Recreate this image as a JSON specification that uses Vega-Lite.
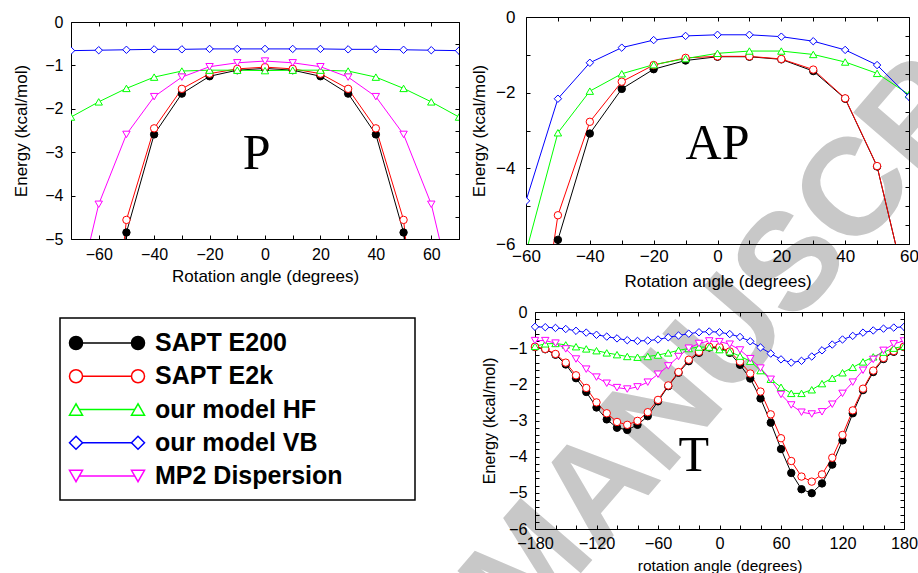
{
"$schema": "https://vega.github.io/schema/vega-lite/v6.json",
"background": "white",
"autosize": {"type": "pad"},
"padding": {"left": 12, "top": 7, "right": 0, "bottom": 0},
"config": {
  "view": {"stroke": "#000000", "strokeWidth": 1},
  "axis": {"grid": false, "domain": false, "domainColor": "#000000", "domainWidth": 1, "labelFont": "Liberation Sans", "titleFont": "Liberation Sans", "labelColor": "#000000", "titleColor": "#000000", "tickColor": "#000000", "titleFontWeight": "normal", "labelFlush": false, "labelOverlap": false, "tickSize": -4, "tickWidth": 1}
},
"datasets": {
"P": [
{"series":"SAPT E200","angle":-60,"energy":-11.0},{"series":"SAPT E200","angle":-50,"energy":-4.85},{"series":"SAPT E200","angle":-40,"energy":-2.59},{"series":"SAPT E200","angle":-30,"energy":-1.65},{"series":"SAPT E200","angle":-20,"energy":-1.25},{"series":"SAPT E200","angle":-10,"energy":-1.11},{"series":"SAPT E200","angle":0,"energy":-1.07},{"series":"SAPT E200","angle":10,"energy":-1.11},{"series":"SAPT E200","angle":20,"energy":-1.25},{"series":"SAPT E200","angle":30,"energy":-1.65},{"series":"SAPT E200","angle":40,"energy":-2.59},{"series":"SAPT E200","angle":50,"energy":-4.85},{"series":"SAPT E200","angle":60,"energy":-11.0},
{"series":"SAPT E2k","angle":-60,"energy":-10.5},{"series":"SAPT E2k","angle":-50,"energy":-4.56},{"series":"SAPT E2k","angle":-40,"energy":-2.45},{"series":"SAPT E2k","angle":-30,"energy":-1.54},{"series":"SAPT E2k","angle":-20,"energy":-1.19},{"series":"SAPT E2k","angle":-10,"energy":-1.08},{"series":"SAPT E2k","angle":0,"energy":-1.04},{"series":"SAPT E2k","angle":10,"energy":-1.08},{"series":"SAPT E2k","angle":20,"energy":-1.19},{"series":"SAPT E2k","angle":30,"energy":-1.54},{"series":"SAPT E2k","angle":40,"energy":-2.45},{"series":"SAPT E2k","angle":50,"energy":-4.56},{"series":"SAPT E2k","angle":60,"energy":-10.5},
{"series":"our model HF","angle":-70,"energy":-2.19},{"series":"our model HF","angle":-60,"energy":-1.84},{"series":"our model HF","angle":-50,"energy":-1.53},{"series":"our model HF","angle":-40,"energy":-1.27},{"series":"our model HF","angle":-30,"energy":-1.13},{"series":"our model HF","angle":-20,"energy":-1.11},{"series":"our model HF","angle":-10,"energy":-1.11},{"series":"our model HF","angle":0,"energy":-1.12},{"series":"our model HF","angle":10,"energy":-1.11},{"series":"our model HF","angle":20,"energy":-1.11},{"series":"our model HF","angle":30,"energy":-1.13},{"series":"our model HF","angle":40,"energy":-1.27},{"series":"our model HF","angle":50,"energy":-1.53},{"series":"our model HF","angle":60,"energy":-1.84},{"series":"our model HF","angle":70,"energy":-2.19},
{"series":"our model VB","angle":-70,"energy":-0.66},{"series":"our model VB","angle":-60,"energy":-0.65},{"series":"our model VB","angle":-50,"energy":-0.64},{"series":"our model VB","angle":-40,"energy":-0.63},{"series":"our model VB","angle":-30,"energy":-0.63},{"series":"our model VB","angle":-20,"energy":-0.62},{"series":"our model VB","angle":-10,"energy":-0.62},{"series":"our model VB","angle":0,"energy":-0.62},{"series":"our model VB","angle":10,"energy":-0.62},{"series":"our model VB","angle":20,"energy":-0.62},{"series":"our model VB","angle":30,"energy":-0.63},{"series":"our model VB","angle":40,"energy":-0.63},{"series":"our model VB","angle":50,"energy":-0.64},{"series":"our model VB","angle":60,"energy":-0.65},{"series":"our model VB","angle":70,"energy":-0.66},
{"series":"MP2 Dispersion","angle":-70,"energy":-6.9},{"series":"MP2 Dispersion","angle":-60,"energy":-4.2},{"series":"MP2 Dispersion","angle":-50,"energy":-2.59},{"series":"MP2 Dispersion","angle":-40,"energy":-1.72},{"series":"MP2 Dispersion","angle":-30,"energy":-1.27},{"series":"MP2 Dispersion","angle":-20,"energy":-1.03},{"series":"MP2 Dispersion","angle":-10,"energy":-0.94},{"series":"MP2 Dispersion","angle":0,"energy":-0.9},{"series":"MP2 Dispersion","angle":10,"energy":-0.94},{"series":"MP2 Dispersion","angle":20,"energy":-1.03},{"series":"MP2 Dispersion","angle":30,"energy":-1.27},{"series":"MP2 Dispersion","angle":40,"energy":-1.72},{"series":"MP2 Dispersion","angle":50,"energy":-2.59},{"series":"MP2 Dispersion","angle":60,"energy":-4.2},{"series":"MP2 Dispersion","angle":70,"energy":-6.9}
],
"AP": [
{"series":"SAPT E200","angle":-60,"energy":-12.0},{"series":"SAPT E200","angle":-50,"energy":-5.89},{"series":"SAPT E200","angle":-40,"energy":-3.08},{"series":"SAPT E200","angle":-30,"energy":-1.9},{"series":"SAPT E200","angle":-20,"energy":-1.38},{"series":"SAPT E200","angle":-10,"energy":-1.15},{"series":"SAPT E200","angle":0,"energy":-1.05},{"series":"SAPT E200","angle":10,"energy":-1.05},{"series":"SAPT E200","angle":20,"energy":-1.12},{"series":"SAPT E200","angle":30,"energy":-1.43},{"series":"SAPT E200","angle":40,"energy":-2.16},{"series":"SAPT E200","angle":50,"energy":-3.95},{"series":"SAPT E200","angle":60,"energy":-7.5},
{"series":"SAPT E2k","angle":-60,"energy":-10.9},{"series":"SAPT E2k","angle":-50,"energy":-5.24},{"series":"SAPT E2k","angle":-40,"energy":-2.77},{"series":"SAPT E2k","angle":-30,"energy":-1.71},{"series":"SAPT E2k","angle":-20,"energy":-1.27},{"series":"SAPT E2k","angle":-10,"energy":-1.08},{"series":"SAPT E2k","angle":0,"energy":-1.04},{"series":"SAPT E2k","angle":10,"energy":-1.04},{"series":"SAPT E2k","angle":20,"energy":-1.11},{"series":"SAPT E2k","angle":30,"energy":-1.39},{"series":"SAPT E2k","angle":40,"energy":-2.15},{"series":"SAPT E2k","angle":50,"energy":-3.94},{"series":"SAPT E2k","angle":60,"energy":-7.5},
{"series":"our model HF","angle":-60,"energy":-6.22},{"series":"our model HF","angle":-50,"energy":-3.06},{"series":"our model HF","angle":-40,"energy":-1.96},{"series":"our model HF","angle":-30,"energy":-1.5},{"series":"our model HF","angle":-20,"energy":-1.26},{"series":"our model HF","angle":-10,"energy":-1.1},{"series":"our model HF","angle":0,"energy":-0.96},{"series":"our model HF","angle":10,"energy":-0.9},{"series":"our model HF","angle":20,"energy":-0.9},{"series":"our model HF","angle":30,"energy":-0.99},{"series":"our model HF","angle":40,"energy":-1.19},{"series":"our model HF","angle":50,"energy":-1.49},{"series":"our model HF","angle":60,"energy":-2.05},
{"series":"our model VB","angle":-60,"energy":-4.86},{"series":"our model VB","angle":-50,"energy":-2.16},{"series":"our model VB","angle":-40,"energy":-1.21},{"series":"our model VB","angle":-30,"energy":-0.81},{"series":"our model VB","angle":-20,"energy":-0.61},{"series":"our model VB","angle":-10,"energy":-0.5},{"series":"our model VB","angle":0,"energy":-0.47},{"series":"our model VB","angle":10,"energy":-0.47},{"series":"our model VB","angle":20,"energy":-0.52},{"series":"our model VB","angle":30,"energy":-0.64},{"series":"our model VB","angle":40,"energy":-0.87},{"series":"our model VB","angle":50,"energy":-1.27},{"series":"our model VB","angle":60,"energy":-2.11}
],
"T": [
{"series":"SAPT E200","angle":-180,"energy":-0.97},{"series":"SAPT E200","angle":-170,"energy":-1.03},{"series":"SAPT E200","angle":-160,"energy":-1.18},{"series":"SAPT E200","angle":-150,"energy":-1.45},{"series":"SAPT E200","angle":-140,"energy":-1.83},{"series":"SAPT E200","angle":-130,"energy":-2.21},{"series":"SAPT E200","angle":-120,"energy":-2.64},{"series":"SAPT E200","angle":-110,"energy":-2.97},{"series":"SAPT E200","angle":-100,"energy":-3.2},{"series":"SAPT E200","angle":-90,"energy":-3.26},{"series":"SAPT E200","angle":-80,"energy":-3.12},{"series":"SAPT E200","angle":-70,"energy":-2.88},{"series":"SAPT E200","angle":-60,"energy":-2.47},{"series":"SAPT E200","angle":-50,"energy":-2.05},{"series":"SAPT E200","angle":-40,"energy":-1.68},{"series":"SAPT E200","angle":-30,"energy":-1.36},{"series":"SAPT E200","angle":-20,"energy":-1.13},{"series":"SAPT E200","angle":-10,"energy":-0.98},{"series":"SAPT E200","angle":0,"energy":-0.98},{"series":"SAPT E200","angle":10,"energy":-1.13},{"series":"SAPT E200","angle":20,"energy":-1.46},{"series":"SAPT E200","angle":30,"energy":-1.84},{"series":"SAPT E200","angle":40,"energy":-2.39},{"series":"SAPT E200","angle":50,"energy":-3.06},{"series":"SAPT E200","angle":60,"energy":-3.79},{"series":"SAPT E200","angle":70,"energy":-4.45},{"series":"SAPT E200","angle":80,"energy":-4.9},{"series":"SAPT E200","angle":90,"energy":-5.01},{"series":"SAPT E200","angle":100,"energy":-4.74},{"series":"SAPT E200","angle":110,"energy":-4.22},{"series":"SAPT E200","angle":120,"energy":-3.55},{"series":"SAPT E200","angle":130,"energy":-2.8},{"series":"SAPT E200","angle":140,"energy":-2.16},{"series":"SAPT E200","angle":150,"energy":-1.66},{"series":"SAPT E200","angle":160,"energy":-1.3},{"series":"SAPT E200","angle":170,"energy":-1.1},{"series":"SAPT E200","angle":180,"energy":-0.97},
{"series":"SAPT E2k","angle":-180,"energy":-0.96},{"series":"SAPT E2k","angle":-170,"energy":-1.02},{"series":"SAPT E2k","angle":-160,"energy":-1.16},{"series":"SAPT E2k","angle":-150,"energy":-1.4},{"series":"SAPT E2k","angle":-140,"energy":-1.75},{"series":"SAPT E2k","angle":-130,"energy":-2.1},{"series":"SAPT E2k","angle":-120,"energy":-2.5},{"series":"SAPT E2k","angle":-110,"energy":-2.8},{"series":"SAPT E2k","angle":-100,"energy":-3.04},{"series":"SAPT E2k","angle":-90,"energy":-3.12},{"series":"SAPT E2k","angle":-80,"energy":-3.01},{"series":"SAPT E2k","angle":-70,"energy":-2.77},{"series":"SAPT E2k","angle":-60,"energy":-2.43},{"series":"SAPT E2k","angle":-50,"energy":-2.03},{"series":"SAPT E2k","angle":-40,"energy":-1.66},{"series":"SAPT E2k","angle":-30,"energy":-1.32},{"series":"SAPT E2k","angle":-20,"energy":-1.1},{"series":"SAPT E2k","angle":-10,"energy":-0.96},{"series":"SAPT E2k","angle":0,"energy":-0.97},{"series":"SAPT E2k","angle":10,"energy":-1.09},{"series":"SAPT E2k","angle":20,"energy":-1.37},{"series":"SAPT E2k","angle":30,"energy":-1.7},{"series":"SAPT E2k","angle":40,"energy":-2.2},{"series":"SAPT E2k","angle":50,"energy":-2.83},{"series":"SAPT E2k","angle":60,"energy":-3.49},{"series":"SAPT E2k","angle":70,"energy":-4.12},{"series":"SAPT E2k","angle":80,"energy":-4.55},{"series":"SAPT E2k","angle":90,"energy":-4.69},{"series":"SAPT E2k","angle":100,"energy":-4.49},{"series":"SAPT E2k","angle":110,"energy":-4.03},{"series":"SAPT E2k","angle":120,"energy":-3.4},{"series":"SAPT E2k","angle":130,"energy":-2.72},{"series":"SAPT E2k","angle":140,"energy":-2.12},{"series":"SAPT E2k","angle":150,"energy":-1.62},{"series":"SAPT E2k","angle":160,"energy":-1.27},{"series":"SAPT E2k","angle":170,"energy":-1.08},{"series":"SAPT E2k","angle":180,"energy":-0.96},
{"series":"our model HF","angle":-180,"energy":-0.95},{"series":"our model HF","angle":-170,"energy":-0.88},{"series":"our model HF","angle":-160,"energy":-0.87},{"series":"our model HF","angle":-150,"energy":-0.91},{"series":"our model HF","angle":-140,"energy":-0.96},{"series":"our model HF","angle":-130,"energy":-1.02},{"series":"our model HF","angle":-120,"energy":-1.07},{"series":"our model HF","angle":-110,"energy":-1.13},{"series":"our model HF","angle":-100,"energy":-1.18},{"series":"our model HF","angle":-90,"energy":-1.23},{"series":"our model HF","angle":-80,"energy":-1.25},{"series":"our model HF","angle":-70,"energy":-1.23},{"series":"our model HF","angle":-60,"energy":-1.19},{"series":"our model HF","angle":-50,"energy":-1.13},{"series":"our model HF","angle":-40,"energy":-1.06},{"series":"our model HF","angle":-30,"energy":-1.01},{"series":"our model HF","angle":-20,"energy":-0.97},{"series":"our model HF","angle":-10,"energy":-0.97},{"series":"our model HF","angle":0,"energy":-1.04},{"series":"our model HF","angle":10,"energy":-1.1},{"series":"our model HF","angle":20,"energy":-1.22},{"series":"our model HF","angle":30,"energy":-1.36},{"series":"our model HF","angle":40,"energy":-1.62},{"series":"our model HF","angle":50,"energy":-1.86},{"series":"our model HF","angle":60,"energy":-2.08},{"series":"our model HF","angle":70,"energy":-2.25},{"series":"our model HF","angle":80,"energy":-2.25},{"series":"our model HF","angle":90,"energy":-2.15},{"series":"our model HF","angle":100,"energy":-1.98},{"series":"our model HF","angle":110,"energy":-1.83},{"series":"our model HF","angle":120,"energy":-1.68},{"series":"our model HF","angle":130,"energy":-1.53},{"series":"our model HF","angle":140,"energy":-1.38},{"series":"our model HF","angle":150,"energy":-1.24},{"series":"our model HF","angle":160,"energy":-1.11},{"series":"our model HF","angle":170,"energy":-1.0},{"series":"our model HF","angle":180,"energy":-0.95},
{"series":"our model VB","angle":-180,"energy":-0.41},{"series":"our model VB","angle":-170,"energy":-0.42},{"series":"our model VB","angle":-160,"energy":-0.44},{"series":"our model VB","angle":-150,"energy":-0.47},{"series":"our model VB","angle":-140,"energy":-0.52},{"series":"our model VB","angle":-130,"energy":-0.57},{"series":"our model VB","angle":-120,"energy":-0.63},{"series":"our model VB","angle":-110,"energy":-0.68},{"series":"our model VB","angle":-100,"energy":-0.73},{"series":"our model VB","angle":-90,"energy":-0.78},{"series":"our model VB","angle":-80,"energy":-0.8},{"series":"our model VB","angle":-70,"energy":-0.79},{"series":"our model VB","angle":-60,"energy":-0.76},{"series":"our model VB","angle":-50,"energy":-0.7},{"series":"our model VB","angle":-40,"energy":-0.65},{"series":"our model VB","angle":-30,"energy":-0.6},{"series":"our model VB","angle":-20,"energy":-0.56},{"series":"our model VB","angle":-10,"energy":-0.54},{"series":"our model VB","angle":0,"energy":-0.56},{"series":"our model VB","angle":10,"energy":-0.61},{"series":"our model VB","angle":20,"energy":-0.69},{"series":"our model VB","angle":30,"energy":-0.81},{"series":"our model VB","angle":40,"energy":-0.98},{"series":"our model VB","angle":50,"energy":-1.15},{"series":"our model VB","angle":60,"energy":-1.31},{"series":"our model VB","angle":70,"energy":-1.4},{"series":"our model VB","angle":80,"energy":-1.35},{"series":"our model VB","angle":90,"energy":-1.23},{"series":"our model VB","angle":100,"energy":-1.06},{"series":"our model VB","angle":110,"energy":-0.9},{"series":"our model VB","angle":120,"energy":-0.76},{"series":"our model VB","angle":130,"energy":-0.66},{"series":"our model VB","angle":140,"energy":-0.57},{"series":"our model VB","angle":150,"energy":-0.51},{"series":"our model VB","angle":160,"energy":-0.46},{"series":"our model VB","angle":170,"energy":-0.43},{"series":"our model VB","angle":180,"energy":-0.41},
{"series":"MP2 Dispersion","angle":-180,"energy":-0.79},{"series":"MP2 Dispersion","angle":-170,"energy":-0.79},{"series":"MP2 Dispersion","angle":-160,"energy":-0.86},{"series":"MP2 Dispersion","angle":-150,"energy":-1.02},{"series":"MP2 Dispersion","angle":-140,"energy":-1.3},{"series":"MP2 Dispersion","angle":-130,"energy":-1.58},{"series":"MP2 Dispersion","angle":-120,"energy":-1.8},{"series":"MP2 Dispersion","angle":-110,"energy":-1.97},{"series":"MP2 Dispersion","angle":-100,"energy":-2.09},{"series":"MP2 Dispersion","angle":-90,"energy":-2.13},{"series":"MP2 Dispersion","angle":-80,"energy":-2.07},{"series":"MP2 Dispersion","angle":-70,"energy":-1.94},{"series":"MP2 Dispersion","angle":-60,"energy":-1.72},{"series":"MP2 Dispersion","angle":-50,"energy":-1.49},{"series":"MP2 Dispersion","angle":-40,"energy":-1.23},{"series":"MP2 Dispersion","angle":-30,"energy":-1.0},{"series":"MP2 Dispersion","angle":-20,"energy":-0.87},{"series":"MP2 Dispersion","angle":-10,"energy":-0.8},{"series":"MP2 Dispersion","angle":0,"energy":-0.82},{"series":"MP2 Dispersion","angle":10,"energy":-0.89},{"series":"MP2 Dispersion","angle":20,"energy":-1.05},{"series":"MP2 Dispersion","angle":30,"energy":-1.29},{"series":"MP2 Dispersion","angle":40,"energy":-1.55},{"series":"MP2 Dispersion","angle":50,"energy":-1.86},{"series":"MP2 Dispersion","angle":60,"energy":-2.28},{"series":"MP2 Dispersion","angle":70,"energy":-2.57},{"series":"MP2 Dispersion","angle":80,"energy":-2.77},{"series":"MP2 Dispersion","angle":90,"energy":-2.82},{"series":"MP2 Dispersion","angle":100,"energy":-2.76},{"series":"MP2 Dispersion","angle":110,"energy":-2.55},{"series":"MP2 Dispersion","angle":120,"energy":-2.25},{"series":"MP2 Dispersion","angle":130,"energy":-1.94},{"series":"MP2 Dispersion","angle":140,"energy":-1.61},{"series":"MP2 Dispersion","angle":150,"energy":-1.31},{"series":"MP2 Dispersion","angle":160,"energy":-1.06},{"series":"MP2 Dispersion","angle":170,"energy":-0.88},{"series":"MP2 Dispersion","angle":180,"energy":-0.8}
],
"legend": [{"series":"SAPT E200"},{"series":"SAPT E2k"},{"series":"our model HF"},{"series":"our model VB"},{"series":"MP2 Dispersion"}]
},
"columns": 2,
"align": "each",
"center": true,
"bounds": "flush",
"spacing": {"row": 68, "column": 67},
"concat": [
{
 "width": 388, "height": 217,
 "layer": [
  {"data": {"values": [{"w": "MANUSCR"}]},
   "mark": {"type": "text", "angle": -49.2, "font": "Liberation Sans", "fontWeight": "bold", "fontSize": 138, "color": "#c8c8c8", "align": "left", "baseline": "middle", "clip": false},
   "encoding": {"text": {"field": "w", "type": "nominal"},
     "x": {"datum": 82, "type": "quantitative", "scale": {"domain": [-70, 70], "nice": false, "zero": false}, "axis": null},
     "y": {"datum": -13.62, "type": "quantitative", "scale": {"domain": [-5, 0], "nice": false, "zero": false}, "axis": null}}},
  {"data": {"name": "P"},
   "mark": {"type": "line", "strokeWidth": 1, "clip": true},
   "encoding": {
     "x": {"field": "angle", "type": "quantitative", "scale": {"domain": [-70, 70], "nice": false, "zero": false},
       "axis": {"orient": "bottom", "values": [-70,-60,-50,-40,-30,-20,-10,0,10,20,30,40,50,60,70], "format": "d", "labelExpr": "datum.value % 20 == 0 ? datum.label : ''", "labelOverlap": false, "title": "Rotation angle (degrees)", "labelFontSize": 16, "titleFontSize": 17, "labelPadding": 11, "titlePadding": 6}},
     "y": {"field": "energy", "type": "quantitative", "scale": {"domain": [-5, 0], "nice": false, "zero": false},
       "axis": {"orient": "left", "values": [-5,-4.5,-4,-3.5,-3,-2.5,-2,-1.5,-1,-0.5,0], "format": "d", "labelExpr": "datum.value % 1 == 0 ? datum.label : ''", "labelOverlap": false, "title": "Energy (kcal/mol)", "labelFontSize": 16, "titleFontSize": 17, "labelPadding": 12, "titlePadding": 14}},
     "color": {"field": "series", "type": "nominal", "scale": {"domain": ["SAPT E200","SAPT E2k","our model HF","our model VB","MP2 Dispersion"], "range": ["#000000","#ff0000","#00ff00","#0000ff","#ff00ff"]}, "legend": null}}},
  {"data": {"name": "P"},
   "mark": {"type": "point", "filled": false, "opacity": 1, "size": 55, "strokeWidth": 1, "clip": true},
   "encoding": {
     "x": {"field": "angle", "type": "quantitative", "scale": {"domain": [-70, 70], "nice": false, "zero": false}, "axis": null},
     "y": {"field": "energy", "type": "quantitative", "scale": {"domain": [-5, 0], "nice": false, "zero": false}, "axis": null},
     "shape": {"field": "series", "type": "nominal", "scale": {"domain": ["SAPT E200","SAPT E2k","our model HF","our model VB","MP2 Dispersion"], "range": ["circle","circle","triangle-up","diamond","triangle-down"]}, "legend": null},
     "stroke": {"field": "series", "type": "nominal", "scale": {"domain": ["SAPT E200","SAPT E2k","our model HF","our model VB","MP2 Dispersion"], "range": ["#000000","#ff0000","#00ff00","#0000ff","#ff00ff"]}, "legend": null},
     "fill": {"field": "series", "type": "nominal", "scale": {"domain": ["SAPT E200","SAPT E2k","our model HF","our model VB","MP2 Dispersion"], "range": ["#000000","#ffffff","#ffffff","#ffffff","#ffffff"]}, "legend": null}}},
  {"data": {"values": [{"t": "P"}]},
   "mark": {"type": "text", "font": "Liberation Serif", "fontSize": 50, "align": "center", "baseline": "alphabetic", "color": "#000000"},
   "encoding": {"text": {"field": "t", "type": "nominal"},
     "x": {"datum": -3, "type": "quantitative", "scale": {"domain": [-70, 70], "nice": false, "zero": false}, "axis": {"orient": "top", "values": [-70,-60,-50,-40,-30,-20,-10,0,10,20,30,40,50,60,70], "labels": false, "title": null}},
     "y": {"datum": -3.39, "type": "quantitative", "scale": {"domain": [-5, 0], "nice": false, "zero": false}, "axis": {"orient": "right", "values": [-5,-4.5,-4,-3.5,-3,-2.5,-2,-1.5,-1,-0.5,0], "labels": false, "title": null}}}}
 ],
 "resolve": {"axis": {"x": "independent", "y": "independent"}}
},
{
 "width": 383, "height": 227,
 "layer": [
  {"data": {"name": "AP"},
   "mark": {"type": "line", "strokeWidth": 1, "clip": true},
   "encoding": {
     "x": {"field": "angle", "type": "quantitative", "scale": {"domain": [-60, 60], "nice": false, "zero": false},
       "axis": {"orient": "bottom", "values": [-60,-50,-40,-30,-20,-10,0,10,20,30,40,50,60], "format": "d", "labelExpr": "datum.value % 20 == 0 ? datum.label : ''", "labelOverlap": false, "title": "Rotation angle (degrees)", "labelFontSize": 17, "titleFontSize": 17, "labelPadding": 8, "titlePadding": 9}},
     "y": {"field": "energy", "type": "quantitative", "scale": {"domain": [-6, 0], "nice": false, "zero": false},
       "axis": {"orient": "left", "values": [-6,-5.5,-5,-4.5,-4,-3.5,-3,-2.5,-2,-1.5,-1,-0.5,0], "format": "d", "labelExpr": "datum.value % 2 == 0 ? datum.label : ''", "labelOverlap": false, "title": "Energy (kcal/mol)", "labelFontSize": 17, "titleFontSize": 17, "labelPadding": 15, "titlePadding": 7}},
     "color": {"field": "series", "type": "nominal", "scale": {"domain": ["SAPT E200","SAPT E2k","our model HF","our model VB","MP2 Dispersion"], "range": ["#000000","#ff0000","#00ff00","#0000ff","#ff00ff"]}, "legend": null}}},
  {"data": {"name": "AP"},
   "mark": {"type": "point", "filled": false, "opacity": 1, "size": 55, "strokeWidth": 1, "clip": true},
   "encoding": {
     "x": {"field": "angle", "type": "quantitative", "scale": {"domain": [-60, 60], "nice": false, "zero": false}, "axis": null},
     "y": {"field": "energy", "type": "quantitative", "scale": {"domain": [-6, 0], "nice": false, "zero": false}, "axis": null},
     "shape": {"field": "series", "type": "nominal", "scale": {"domain": ["SAPT E200","SAPT E2k","our model HF","our model VB","MP2 Dispersion"], "range": ["circle","circle","triangle-up","diamond","triangle-down"]}, "legend": null},
     "stroke": {"field": "series", "type": "nominal", "scale": {"domain": ["SAPT E200","SAPT E2k","our model HF","our model VB","MP2 Dispersion"], "range": ["#000000","#ff0000","#00ff00","#0000ff","#ff00ff"]}, "legend": null},
     "fill": {"field": "series", "type": "nominal", "scale": {"domain": ["SAPT E200","SAPT E2k","our model HF","our model VB","MP2 Dispersion"], "range": ["#000000","#ffffff","#ffffff","#ffffff","#ffffff"]}, "legend": null}}},
  {"data": {"values": [{"t": "AP"}]},
   "mark": {"type": "text", "font": "Liberation Serif", "fontSize": 50, "align": "center", "baseline": "alphabetic", "color": "#000000"},
   "encoding": {"text": {"field": "t", "type": "nominal"},
     "x": {"datum": 0, "type": "quantitative", "scale": {"domain": [-60, 60], "nice": false, "zero": false}, "axis": {"orient": "top", "values": [-60,-50,-40,-30,-20,-10,0,10,20,30,40,50,60], "labels": false, "title": null}},
     "y": {"datum": -3.75, "type": "quantitative", "scale": {"domain": [-6, 0], "nice": false, "zero": false}, "axis": {"orient": "right", "values": [-6,-5.5,-5,-4.5,-4,-3.5,-3,-2.5,-2,-1.5,-1,-0.5,0], "labels": false, "title": null}}}}
 ],
 "resolve": {"axis": {"x": "independent", "y": "independent"}}
},
{
 "width": 388, "height": 217,
 "view": {"stroke": null},
 "layer": [
  {"data": {"values": [{"k": "box"}]},
   "mark": {"type": "rect", "fill": "#ffffff", "stroke": "#000000", "strokeWidth": 1.5},
   "encoding": {
     "x": {"datum": 0, "type": "quantitative", "scale": {"domain": [11, 399], "nice": false, "zero": false}, "axis": null},
     "x2": {"datum": 355},
     "y": {"datum": 6, "type": "quantitative", "scale": {"domain": [0, 217], "reverse": true, "nice": false, "zero": false}, "axis": null},
     "y2": {"datum": 188}}},
  {"data": {"name": "legend"},
   "mark": {"type": "rule", "strokeWidth": 1.3},
   "encoding": {
     "x": {"datum": 16, "type": "quantitative", "scale": {"domain": [11, 399], "nice": false, "zero": false}, "axis": null},
     "x2": {"datum": 78},
     "y": {"field": "series", "type": "nominal", "scale": {"type": "point", "domain": ["SAPT E200","SAPT E2k","our model HF","our model VB","MP2 Dispersion"], "range": [31, 164], "padding": 0}, "axis": null},
     "color": {"field": "series", "type": "nominal", "scale": {"domain": ["SAPT E200","SAPT E2k","our model HF","our model VB","MP2 Dispersion"], "range": ["#000000","#ff0000","#00ff00","#0000ff","#ff00ff"]}, "legend": null}}},
  {"data": {"name": "legend"},
   "mark": {"type": "point", "filled": false, "opacity": 1, "size": 170, "strokeWidth": 1.5},
   "encoding": {
     "x": {"datum": 16, "type": "quantitative", "scale": {"domain": [11, 399], "nice": false, "zero": false}, "axis": null},
     "y": {"field": "series", "type": "nominal", "scale": {"type": "point", "domain": ["SAPT E200","SAPT E2k","our model HF","our model VB","MP2 Dispersion"], "range": [31, 164], "padding": 0}, "axis": null},
     "shape": {"field": "series", "type": "nominal", "scale": {"domain": ["SAPT E200","SAPT E2k","our model HF","our model VB","MP2 Dispersion"], "range": ["circle","circle","triangle-up","diamond","triangle-down"]}, "legend": null},
     "stroke": {"field": "series", "type": "nominal", "scale": {"domain": ["SAPT E200","SAPT E2k","our model HF","our model VB","MP2 Dispersion"], "range": ["#000000","#ff0000","#00ff00","#0000ff","#ff00ff"]}, "legend": null},
     "fill": {"field": "series", "type": "nominal", "scale": {"domain": ["SAPT E200","SAPT E2k","our model HF","our model VB","MP2 Dispersion"], "range": ["#000000","#ffffff","#ffffff","#ffffff","#ffffff"]}, "legend": null}}},
  {"data": {"name": "legend"},
   "mark": {"type": "point", "filled": false, "opacity": 1, "size": 170, "strokeWidth": 1.5},
   "encoding": {
     "x": {"datum": 78, "type": "quantitative", "scale": {"domain": [11, 399], "nice": false, "zero": false}, "axis": null},
     "y": {"field": "series", "type": "nominal", "scale": {"type": "point", "domain": ["SAPT E200","SAPT E2k","our model HF","our model VB","MP2 Dispersion"], "range": [31, 164], "padding": 0}, "axis": null},
     "shape": {"field": "series", "type": "nominal", "scale": {"domain": ["SAPT E200","SAPT E2k","our model HF","our model VB","MP2 Dispersion"], "range": ["circle","circle","triangle-up","diamond","triangle-down"]}, "legend": null},
     "stroke": {"field": "series", "type": "nominal", "scale": {"domain": ["SAPT E200","SAPT E2k","our model HF","our model VB","MP2 Dispersion"], "range": ["#000000","#ff0000","#00ff00","#0000ff","#ff00ff"]}, "legend": null},
     "fill": {"field": "series", "type": "nominal", "scale": {"domain": ["SAPT E200","SAPT E2k","our model HF","our model VB","MP2 Dispersion"], "range": ["#000000","#ffffff","#ffffff","#ffffff","#ffffff"]}, "legend": null}}},
  {"data": {"name": "legend"},
   "mark": {"type": "text", "font": "Liberation Sans", "fontWeight": "bold", "fontSize": 25, "align": "left", "baseline": "middle", "color": "#000000"},
   "encoding": {
     "text": {"field": "series", "type": "nominal"},
     "x": {"datum": 95, "type": "quantitative", "scale": {"domain": [11, 399], "nice": false, "zero": false}, "axis": null},
     "y": {"field": "series", "type": "nominal", "scale": {"type": "point", "domain": ["SAPT E200","SAPT E2k","our model HF","our model VB","MP2 Dispersion"], "range": [31, 164], "padding": 0}, "axis": null}}}
 ],
 "resolve": {"scale": {"y": "independent"}}
},
{
 "width": 378, "height": 217,
 "view": {"stroke": null},
 "layer": [
  {"data": {"name": "T"},
   "mark": {"type": "line", "strokeWidth": 1, "clip": true},
   "encoding": {
     "x": {"field": "angle", "type": "quantitative", "scale": {"domain": [-180, 180], "range": [9, 378], "nice": false, "zero": false},
       "axis": {"orient": "bottom", "domain": true, "values": [-180,-160,-140,-120,-100,-80,-60,-40,-20,0,20,40,60,80,100,120,140,160,180], "format": "d", "labelExpr": "datum.value % 60 == 0 ? datum.label : ''", "labelOverlap": false, "title": "rotation angle (degrees)", "labelFontSize": 16.3, "titleFontSize": 15.5, "labelPadding": 10, "titlePadding": 7}},
     "y": {"field": "energy", "type": "quantitative", "scale": {"domain": [-6, 0], "nice": false, "zero": false},
       "axis": {"orient": "left", "offset": -9, "domain": true, "values": [-6,-5,-4,-3,-2,-1,0], "format": "d", "labelOverlap": false, "title": "Energy (kcal/mol)", "labelFontSize": 16.3, "titleFontSize": 16.3, "labelPadding": 12, "titlePadding": 11}},
     "color": {"field": "series", "type": "nominal", "scale": {"domain": ["SAPT E200","SAPT E2k","our model HF","our model VB","MP2 Dispersion"], "range": ["#000000","#ff0000","#00ff00","#0000ff","#ff00ff"]}, "legend": null}}},
  {"data": {"name": "T"},
   "mark": {"type": "point", "filled": false, "opacity": 1, "size": 55, "strokeWidth": 1, "clip": true},
   "encoding": {
     "x": {"field": "angle", "type": "quantitative", "scale": {"domain": [-180, 180], "range": [9, 378], "nice": false, "zero": false}, "axis": null},
     "y": {"field": "energy", "type": "quantitative", "scale": {"domain": [-6, 0], "nice": false, "zero": false},
       "axis": {"orient": "left", "offset": -9, "domain": false, "values": [-5.8,-5.6,-5.4,-5.2,-4.8,-4.6,-4.4,-4.2,-3.8,-3.6,-3.4,-3.2,-2.8,-2.6,-2.4,-2.2,-1.8,-1.6,-1.4,-1.2,-0.8,-0.6,-0.4,-0.2], "labels": false, "title": null}},
     "shape": {"field": "series", "type": "nominal", "scale": {"domain": ["SAPT E200","SAPT E2k","our model HF","our model VB","MP2 Dispersion"], "range": ["circle","circle","triangle-up","diamond","triangle-down"]}, "legend": null},
     "stroke": {"field": "series", "type": "nominal", "scale": {"domain": ["SAPT E200","SAPT E2k","our model HF","our model VB","MP2 Dispersion"], "range": ["#000000","#ff0000","#00ff00","#0000ff","#ff00ff"]}, "legend": null},
     "fill": {"field": "series", "type": "nominal", "scale": {"domain": ["SAPT E200","SAPT E2k","our model HF","our model VB","MP2 Dispersion"], "range": ["#000000","#ffffff","#ffffff","#ffffff","#ffffff"]}, "legend": null}}},
  {"data": {"values": [{"t": "T"}]},
   "mark": {"type": "text", "font": "Liberation Serif", "fontSize": 50, "align": "center", "baseline": "alphabetic", "color": "#000000"},
   "encoding": {"text": {"field": "t", "type": "nominal"},
     "x": {"datum": -25, "type": "quantitative", "scale": {"domain": [-180, 180], "range": [9, 378], "nice": false, "zero": false}, "axis": {"orient": "top", "domain": true, "values": [-180,-160,-140,-120,-100,-80,-60,-40,-20,0,20,40,60,80,100,120,140,160,180], "labels": false, "title": null}},
     "y": {"datum": -4.4, "type": "quantitative", "scale": {"domain": [-6, 0], "nice": false, "zero": false}, "axis": {"orient": "right", "domain": true, "values": [-6,-5.8,-5.6,-5.4,-5.2,-5,-4.8,-4.6,-4.4,-4.2,-4,-3.8,-3.6,-3.4,-3.2,-3,-2.8,-2.6,-2.4,-2.2,-2,-1.8,-1.6,-1.4,-1.2,-1,-0.8,-0.6,-0.4,-0.2,0], "labels": false, "title": null}}}}
 ],
 "resolve": {"axis": {"x": "independent", "y": "independent"}}
}
]
}
